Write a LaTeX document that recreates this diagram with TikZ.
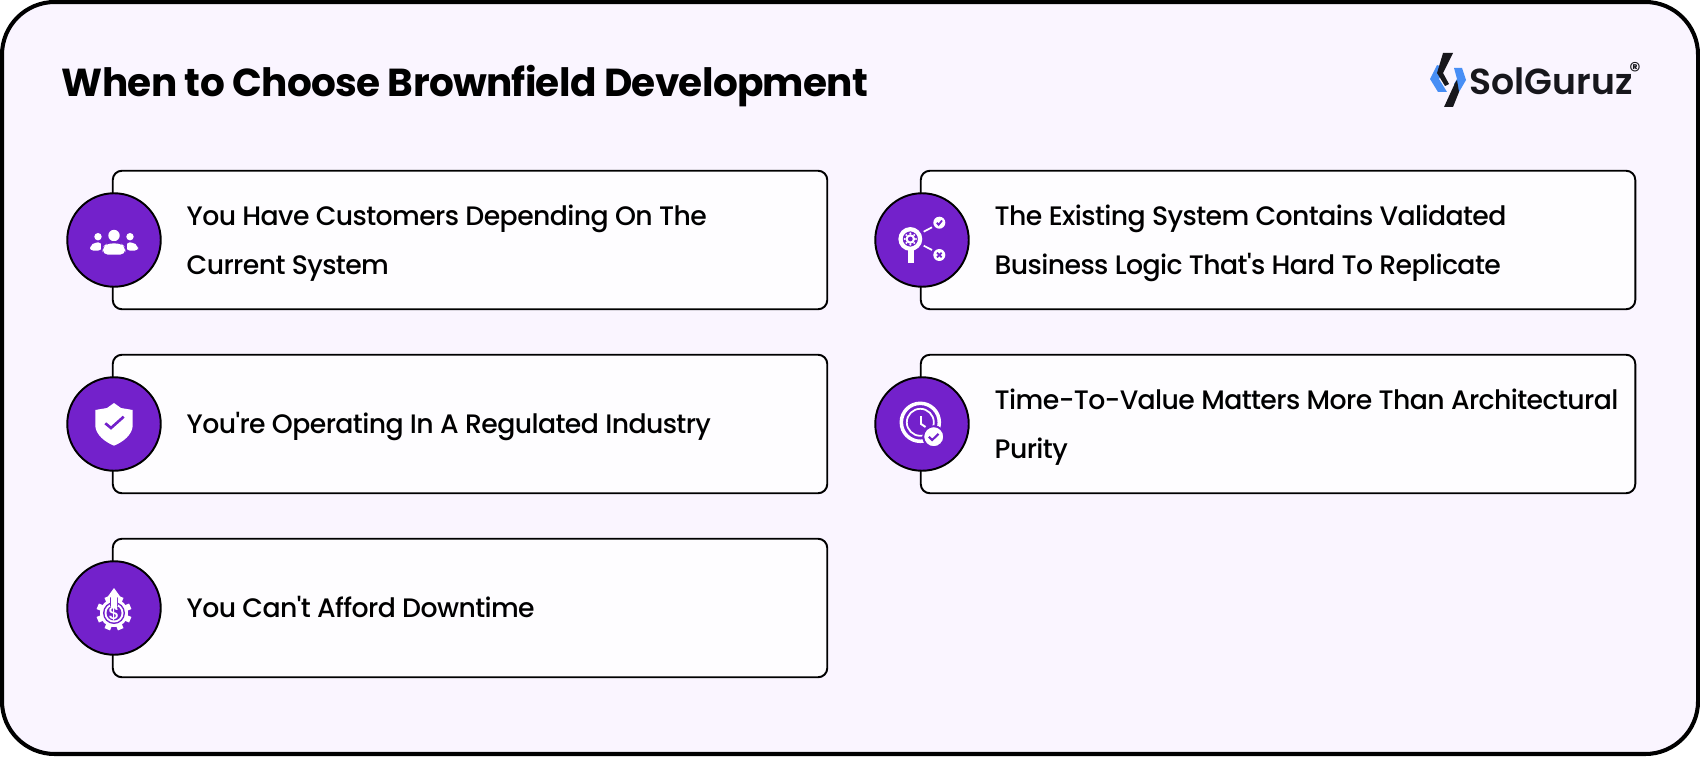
\documentclass[tikz,border=0pt]{standalone}
\usepackage{xcolor}
\usepackage{fontspec}
\defaultfontfeatures[\rmfamily]{}
\setmainfont{Poppins}[UprightFont=* Medium, BoldFont=* SemiBold]
\newfontfamily\titlefont{Poppins}[UprightFont=* Bold]
\usepackage{tikz}
\definecolor{pagebg}{HTML}{FAF5FF}
\definecolor{cardbg}{HTML}{FEFDFF}
\definecolor{iconbg}{HTML}{7321CB}
\definecolor{logoblue}{HTML}{478EF5}
\definecolor{logoink}{HTML}{17171C}

\tikzset{
  card/.style={draw=black, line width=0.55pt, fill=cardbg, rounded corners=2.6pt, inner sep=0pt, minimum width=71.45mm, minimum height=13.85mm},
  badge/.style={draw=black, line width=0.55pt, fill=iconbg, circle, inner sep=0pt, minimum size=26.6pt},
  cardtext/.style={anchor=west, align=left, inner sep=0pt, font=\fontsize{7.6}{13.9}\addfontfeature{LetterSpace=-2.2}\selectfont, text=black},
}

% icons are drawn around (0,0), one unit is one pixel
\newcommand{\iconpeople}{
  \fill[white] (0,-4.5) circle (5.7);
  \fill[white] (-16,-3.3) circle (3.7);
  \fill[white] (16,-3.3) circle (3.7);
  \fill[white, rounded corners=1pt] (-24,10.7) -- (-24,6) -- (-19,2.3) -- (-12.5,2.3) -- (-12.5,10.7) -- cycle;
  \fill[white, rounded corners=1pt] (24,10.7) -- (24,6) -- (19,2.3) -- (12.5,2.3) -- (12.5,10.7) -- cycle;
  \fill[iconbg] (-13,1) rectangle (13,15);
  \fill[white, rounded corners=1.5pt] (-11.3,14.7) -- (-11.3,7) -- (-7,3.5) -- (7,3.5) -- (11.3,7) -- (11.3,14.7) -- cycle;
}
\newcommand{\iconshield}{
  \fill[white] (0,-21) -- (-7,-16) -- (-18.7,-14) -- (-18.7,2) .. controls (-18,11) and (-9,18) .. (0,21.7) .. controls (9,18) and (18,11) .. (18.7,2) -- (18.7,-14) -- (7,-16) -- cycle;
  \draw[iconbg, line width=0.75pt] (-8.7,-0.7) -- (-3,4) -- (9.7,-7.3);
}
\newcommand{\iconsearch}{
  \fill[white] (-14,10) rectangle (-7.7,22.7);
  \draw[white, line width=1.2pt] (-11.7,-1) circle (9.8);
  \foreach \a in {0,45,...,315} {\fill[white] (-11.7,-1) ++(\a:5.6) circle (1.1);}
  \fill[white] (-11.7,-1) circle (4.8);
  \fill[iconbg] (-11.7,-1) circle (2.4);
  \fill[white] (17.3,-17.3) circle (6);
  \fill[white] (17.3,15) circle (6);
  \draw[iconbg, line width=0.5pt] (14.8,-17.3) -- (16.6,-15.2) -- (20,-19.5);
  \draw[iconbg, line width=0.5pt] (15,12.7) -- (19.6,17.3) (19.6,12.7) -- (15,17.3);
  \draw[white, line width=0.5pt] (1.7,-8.3) -- (10,-12.7);
  \draw[white, line width=0.5pt] (1.7,5.7) -- (10,10);
}
\newcommand{\iconclock}{
  \draw[white, line width=1pt] (-1.7,-1.7) circle (19);
  \draw[white, line width=0.5pt] (-1.7,-1.7) circle (13.5);
  \draw[white, line width=0.55pt] (-1,-8) -- (-1,0) -- (3.5,3);
  \fill[white, draw=iconbg, line width=0.55pt] (11.7,12.7) circle (10.5);
  \draw[iconbg, line width=0.6pt] (6.8,12.7) -- (10.2,16) -- (16.5,9.8);
}
\newcommand{\icongear}{
  \foreach \a in {0,45,...,315} {\fill[white, shift={(0,5)}, rotate=\a+22.5] (-3,-17.6) rectangle (3,0);}
  \fill[white] (0,5) circle (14);
  \fill[iconbg] (0,5) circle (11);
  \fill[white] (0,5) circle (9.5);
  \fill[iconbg] (0,5) circle (7.5);
  \fill[iconbg] (-4.4,-2) rectangle (4.4,-11);
  \fill[white] (0,-20) -- (-6.7,-10.7) -- (-3,-10.7) -- (-3,0) -- (3,0) -- (3,-10.7) -- (6.7,-10.7) -- cycle;
}

\begin{document}
\begin{tikzpicture}[x=0.1mm, y=-0.1mm]
\useasboundingbox (0,0) rectangle (1700,756);
\draw[black, line width=1.15pt, fill=pagebg, rounded corners=15pt] (2,2) rectangle (1698,754);

\node[anchor=west, inner sep=0pt, font=\fontsize{11.1}{14}\titlefont\addfontfeature{LetterSpace=-1.8}\selectfont] (title) at (61,86) {When to Choose Brownfield Development};

% logo
\fill[logoblue] (1437,65) -- (1430,79) -- (1438,92) -- (1447,92) -- (1439,79) -- (1445,68) -- cycle;
\fill[logoblue] (1454,68) -- (1462,68) -- (1466,80) -- (1459,92) -- (1454,84) -- (1457,79) -- cycle;
\fill[logoink] (1443,53) -- (1453,53) -- (1443,73) -- (1449,84) -- (1445,86) -- (1437,73) -- cycle;
\fill[logoink] (1457,80) -- (1459,92) -- (1453,107) -- (1444,107) -- (1455,83) -- cycle;
\node[anchor=west, inner sep=0pt, text=logoink, font=\fontsize{10.3}{12}\bfseries\selectfont] (logo_name) at (1469,81) {SolGuruz};
\node[inner sep=0pt, text=logoink, font=\fontsize{6.5}{7}\selectfont] (logo_mark) at (1635,70) {®};

% left column
\node[card] (card_0) at (470,240) {};
\node[card] (card_1) at (470,424) {};
\node[card] (card_2) at (470,608) {};
% right column
\node[card] (card_3) at (1278,240) {};
\node[card] (card_4) at (1278,424) {};

\node[cardtext] (text_0) at (186,240) {\strut You Have Customers Depending On The\\\strut Current System};
\node[cardtext] (text_1) at (186,424) {\strut You're Operating In A Regulated Industry};
\node[cardtext] (text_2) at (186,608) {\strut You Can't Afford Downtime};
\node[cardtext] (text_3) at (994,240) {\strut The Existing System Contains Validated\\\strut Business Logic That's Hard To Replicate};
\node[cardtext] (text_4) at (994,424) {\strut Time-To-Value Matters More Than Architectural\\\strut Purity};

\node[badge] (badge_0) at (114,240) {};
\node[badge] (badge_1) at (114,424) {};
\node[badge] (badge_2) at (114,608) {};
\node[badge] (badge_3) at (922,240) {};
\node[badge] (badge_4) at (922,424) {};

\begin{scope}[shift={(badge_0.center)}] \iconpeople \end{scope}
\begin{scope}[shift={(badge_1.center)}] \iconshield \end{scope}
\begin{scope}[shift={(badge_2.center)}] \icongear
  \node[text=white, inner sep=0pt, font=\fontsize{5}{6}\selectfont] (dollar) at (0,5) {\$};
\end{scope}
\begin{scope}[shift={(badge_3.center)}] \iconsearch \end{scope}
\begin{scope}[shift={(badge_4.center)}] \iconclock \end{scope}

\end{tikzpicture}
\end{document}
